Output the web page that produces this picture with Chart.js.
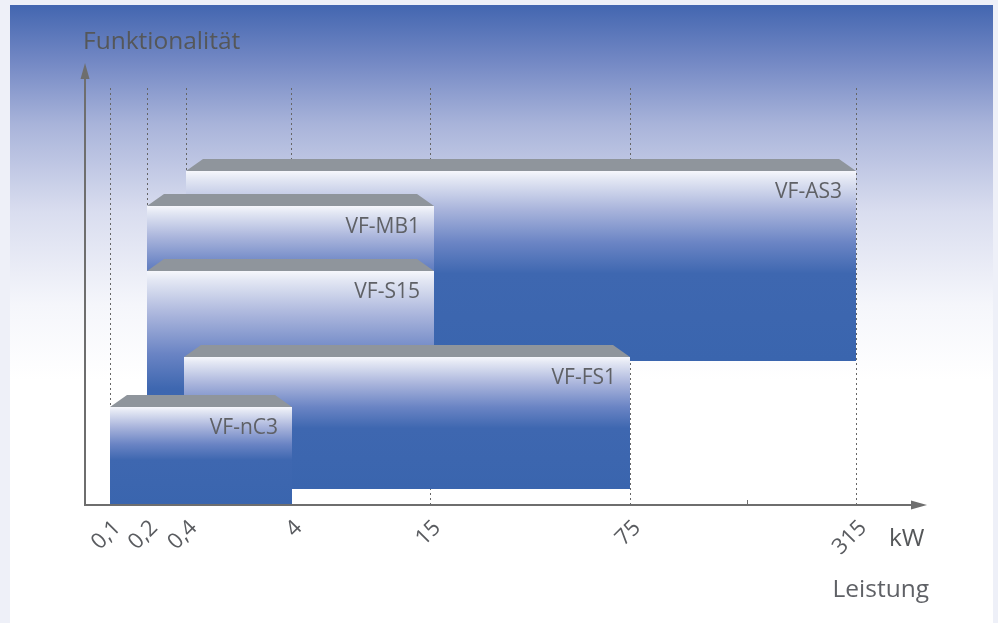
<!DOCTYPE html>
<html>
<head>
<meta charset="utf-8">
<script src="https://cdn.jsdelivr.net/npm/chart.js@4.4.1/dist/chart.umd.min.js"></script>
<style>
  html, body { margin: 0; padding: 0; background: #eef0f8; }
  #wrap { width: 998px; height: 623px; }
</style>
</head>
<body>
<div id="wrap"><canvas id="chart" width="998" height="623"></canvas></div>
<script>
// x axis: kW ticks at their (non-uniform) positions along the axis, 0..100 units
const tickLabels = ['0,1', '0,2', '0,4', '4', '15', '75', '', '315'];
const tickPos = [3, 7.4, 12.1, 24.6, 41.1, 64.9, 78.8, 91.8];

// product ranges, drawn back to front
const models = ['VF-AS3', 'VF-MB1', 'VF-S15', 'VF-FS1', 'VF-nC3'];
const fromPos = [12.0, 7.4, 7.4, 11.8, 3];
const toPos = [91.8, 41.6, 41.6, 64.9, 24.6];
const bottoms = [34.5, 34.5, 3.8, 3.8, 0];
const tops = [80.1, 71.7, 56.1, 35.5, 23.5];

const FONT = '"Open Sans", "Noto Sans", sans-serif';
const GRAY = '#6e6e6e';

const backdrop = {
  id: 'backdrop',
  beforeDraw(chart) {
    const ctx = chart.ctx;
    ctx.save();
    ctx.fillStyle = '#eef0f8';
    ctx.fillRect(0, 0, chart.width, chart.height);
    const g = ctx.createLinearGradient(0, 5, 0, 380);
    g.addColorStop(0, '#4366b0');
    g.addColorStop(0.15, '#7388c4');
    g.addColorStop(0.32, '#a9b4da');
    g.addColorStop(0.55, '#d9ddef');
    g.addColorStop(0.8, '#f5f6fb');
    g.addColorStop(1, '#ffffff');
    ctx.fillStyle = g;
    ctx.fillRect(10, 5, 983, chart.height - 5);
    ctx.restore();
  }
};

const boxes = {
  id: 'boxes',
  afterDatasetsDraw(chart) {
    const ctx = chart.ctx;
    const x = chart.scales.x, y = chart.scales.y;
    ctx.save();
    models.forEach((name, i) => {
      const l = Math.round(x.getPixelForValue(fromPos[i]));
      const r = Math.round(x.getPixelForValue(toPos[i]));
      const t = Math.round(y.getPixelForValue(tops[i]));
      const b = Math.round(y.getPixelForValue(bottoms[i]));

      // top face
      ctx.fillStyle = '#8f959c';
      ctx.beginPath();
      ctx.moveTo(l, t);
      ctx.lineTo(l + 17, t - 12);
      ctx.lineTo(r - 17, t - 12);
      ctx.lineTo(r, t);
      ctx.closePath();
      ctx.fill();

      // front face
      const g = ctx.createLinearGradient(0, t, 0, b);
      g.addColorStop(0, '#f6f7fc');
      g.addColorStop(0.04, '#e4e8f4');
      g.addColorStop(0.2, '#aab5dc');
      g.addColorStop(0.38, '#6a84c4');
      g.addColorStop(0.54, '#3e67b0');
      g.addColorStop(1, '#3a65ae');
      ctx.fillStyle = g;
      ctx.fillRect(l, t, r - l, b - t);

      ctx.fillStyle = '#5f6166';
      ctx.font = '21px ' + FONT;
      ctx.textAlign = 'right';
      ctx.textBaseline = 'middle';
      ctx.fillText(name, r - 14, t + 21);
    });

    // axes with arrows
    const ox = x.left, oy = y.bottom;
    ctx.strokeStyle = GRAY;
    ctx.fillStyle = GRAY;
    ctx.lineWidth = 2;
    ctx.beginPath();
    ctx.moveTo(ox, oy);
    ctx.lineTo(ox, 78);
    ctx.moveTo(ox - 1, oy);
    ctx.lineTo(x.right - 14, oy);
    ctx.stroke();
    ctx.beginPath();
    ctx.moveTo(ox, 63);
    ctx.lineTo(ox - 4.5, 79);
    ctx.lineTo(ox + 4.5, 79);
    ctx.closePath();
    ctx.fill();
    ctx.beginPath();
    ctx.moveTo(x.right + 2, oy);
    ctx.lineTo(x.right - 14, oy - 4.5);
    ctx.lineTo(x.right - 14, oy + 4.5);
    ctx.closePath();
    ctx.fill();

    // small tick for unlabelled position
    ctx.lineWidth = 1;
    tickPos.forEach((v, i) => {
      if (tickLabels[i]) return;
      const px = Math.round(x.getPixelForValue(v)) + 0.5;
      ctx.beginPath();
      ctx.moveTo(px, oy);
      ctx.lineTo(px, oy - 5);
      ctx.stroke();
    });

    // axis titles
    ctx.fillStyle = '#555759';
    ctx.font = '24.5px ' + FONT;
    ctx.textAlign = 'left';
    ctx.textBaseline = 'alphabetic';
    ctx.fillText('Funktionalität', 83, 49);
    ctx.fillText('kW', 889, 546);
    ctx.fillStyle = '#5f6166';
    ctx.textAlign = 'right';
    ctx.fillText('Leistung', 929, 597);
    ctx.restore();
  }
};

new Chart(document.getElementById('chart'), {
  type: 'scatter',
  data: { datasets: [{ data: [], pointRadius: 0 }] },
  plugins: [backdrop, boxes],
  options: {
    responsive: false,
    animation: false,
    layout: { padding: { left: 85, right: 73, top: 88, bottom: 0 } },
    plugins: { legend: { display: false }, tooltip: { enabled: false } },
    scales: {
      x: {
        type: 'linear',
        min: 0,
        max: 100,
        afterBuildTicks: s => { s.ticks = tickPos.map(v => ({ value: v })); },
        afterFit: s => { s.height = 118; },
        grid: {
          color: c => (tickLabels[c.index] ? '#666666' : 'rgba(0,0,0,0)'),
          lineWidth: 1,
          drawTicks: false
        },
        border: { display: false, dash: [2, 3] },
        ticks: {
          autoSkip: false,
          maxRotation: 45,
          minRotation: 45,
          padding: 10,
          labelOffset: 7,
          color: '#5a5c60',
          font: { family: FONT, size: 22 },
          callback: (v, i) => tickLabels[i]
        }
      },
      y: {
        type: 'linear',
        display: false,
        min: 0,
        max: 100
      }
    }
  }
});
</script>
</body>
</html>
